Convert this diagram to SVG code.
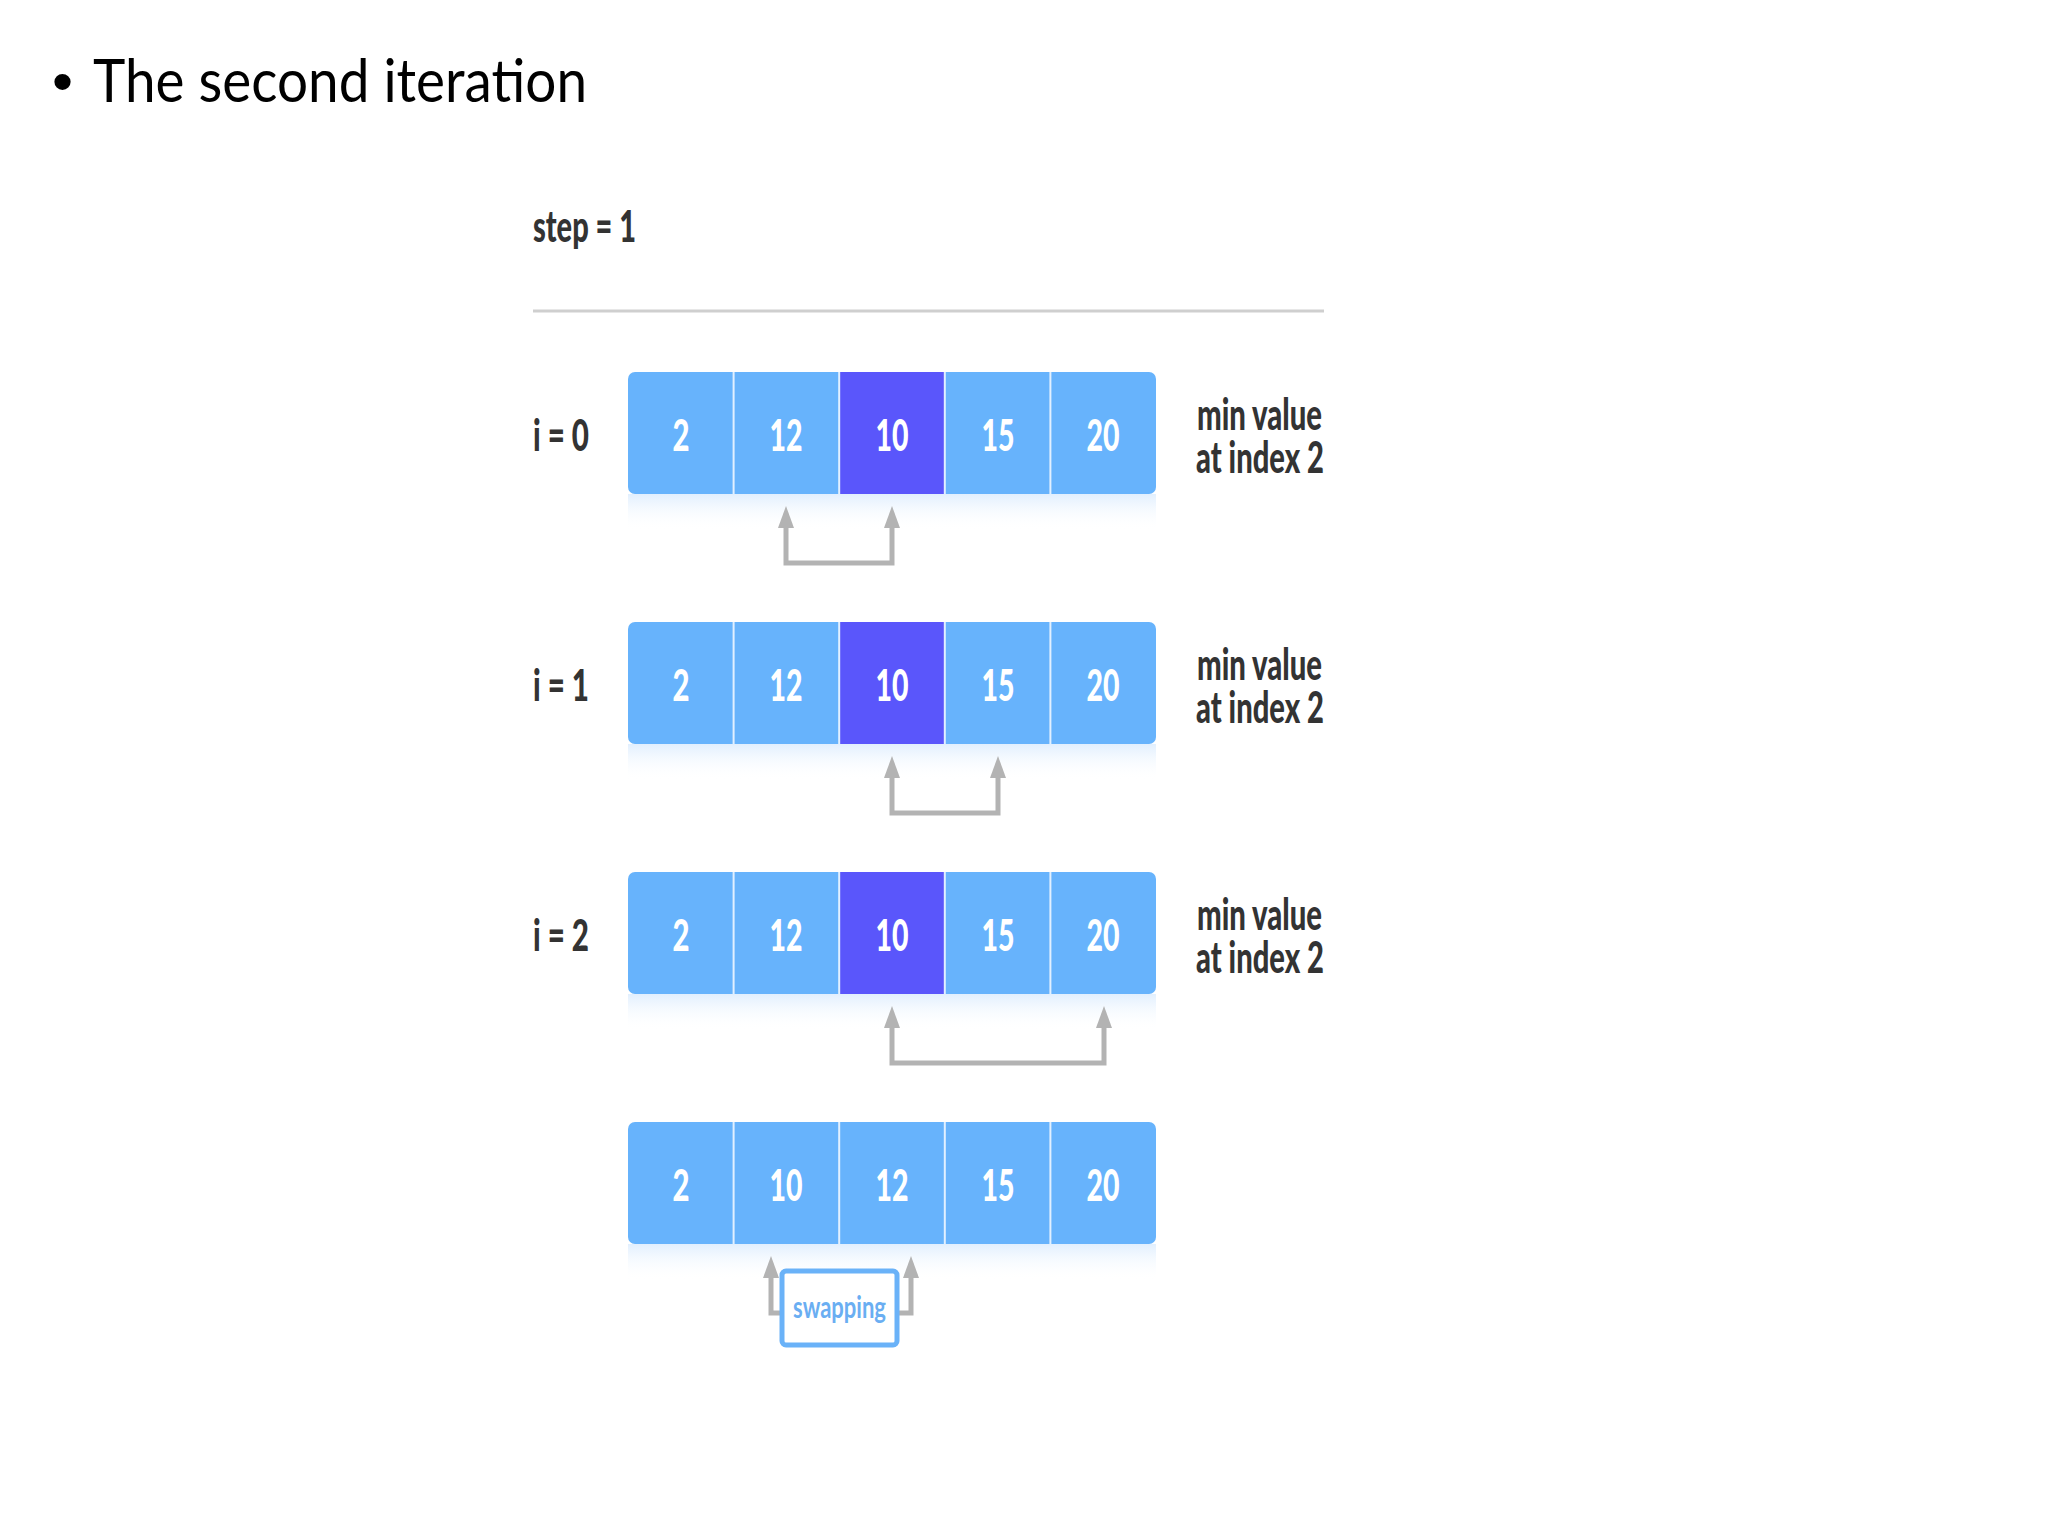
<svg xmlns="http://www.w3.org/2000/svg" width="2048" height="1536" viewBox="0 0 2048 1536">
<defs>
<style>
.lbl{font-family:Lato,"Liberation Sans",sans-serif;font-weight:900;fill:#333333;font-size:44px}
.num{font-family:Lato,"Liberation Sans",sans-serif;font-weight:900;fill:#ffffff;font-size:44px;text-anchor:middle}
.cell{fill:#67b3fc}
.cur{fill:#5a56fb}
.div{stroke:#e2f0ff;stroke-width:2}
.arr{fill:none;stroke:#b3b3b3;stroke-width:5;stroke-linejoin:miter}
</style>
<linearGradient id="shade" x1="0" y1="0" x2="0" y2="1">
<stop offset="0" stop-color="#c9e2fd" stop-opacity="0.55"/>
<stop offset="1" stop-color="#ffffff" stop-opacity="0"/>
</linearGradient>
<marker id="ah" markerUnits="userSpaceOnUse" markerWidth="24" markerHeight="18" viewBox="0 -9 24 18" refX="0" refY="0" orient="auto-start-reverse">
<path d="M0,-8 L22,0 L0,8 z" fill="#b3b3b3"/>
</marker>
</defs>
<rect width="2048" height="1536" fill="#ffffff"/>

<g id="title">
<text x="52" y="102" font-family="'Liberation Sans',sans-serif" font-size="60" fill="#000">•</text>
<text x="93" y="102" font-family="Lato,'Open Sans',sans-serif" font-size="60" fill="#000" textLength="494" lengthAdjust="spacingAndGlyphs">The second iteration</text>
</g>

<g id="step">
<text class="lbl" x="533" y="242" textLength="103" lengthAdjust="spacingAndGlyphs">step = 1</text>
<line x1="533" y1="311" x2="1324" y2="311" stroke="#cfcfcf" stroke-width="3"/>
</g>

<g id="row0">
<rect x="628" y="494" width="528" height="36" fill="url(#shade)"/>
<rect x="628" y="372" width="528" height="122" rx="7" class="cell"/>
<rect x="839" y="372" width="106" height="122" class="cur"/>
<line class="div" x1="733.6" y1="372" x2="733.6" y2="494"/>
<line class="div" x1="839.2" y1="372" x2="839.2" y2="494"/>
<line class="div" x1="944.8" y1="372" x2="944.8" y2="494"/>
<line class="div" x1="1050.4" y1="372" x2="1050.4" y2="494"/>
<text class="lbl" x="533" y="451" textLength="56" lengthAdjust="spacingAndGlyphs">i = 0</text>
<text class="num" x="681" y="451" textLength="17" lengthAdjust="spacingAndGlyphs">2</text>
<text class="num" x="786" y="451" textLength="33" lengthAdjust="spacingAndGlyphs">12</text>
<text class="num" x="892" y="451" textLength="33" lengthAdjust="spacingAndGlyphs">10</text>
<text class="num" x="998" y="451" textLength="33" lengthAdjust="spacingAndGlyphs">15</text>
<text class="num" x="1103" y="451" textLength="33" lengthAdjust="spacingAndGlyphs">20</text>
<text class="lbl" x="1197" y="430" textLength="125" lengthAdjust="spacingAndGlyphs">min value</text>
<text class="lbl" x="1196" y="473" textLength="128" lengthAdjust="spacingAndGlyphs">at index 2</text>
</g>

<g id="row1">
<rect x="628" y="744" width="528" height="36" fill="url(#shade)"/>
<rect x="628" y="622" width="528" height="122" rx="7" class="cell"/>
<rect x="839" y="622" width="106" height="122" class="cur"/>
<line class="div" x1="733.6" y1="622" x2="733.6" y2="744"/>
<line class="div" x1="839.2" y1="622" x2="839.2" y2="744"/>
<line class="div" x1="944.8" y1="622" x2="944.8" y2="744"/>
<line class="div" x1="1050.4" y1="622" x2="1050.4" y2="744"/>
<text class="lbl" x="533" y="701" textLength="56" lengthAdjust="spacingAndGlyphs">i = 1</text>
<text class="num" x="681" y="701" textLength="17" lengthAdjust="spacingAndGlyphs">2</text>
<text class="num" x="786" y="701" textLength="33" lengthAdjust="spacingAndGlyphs">12</text>
<text class="num" x="892" y="701" textLength="33" lengthAdjust="spacingAndGlyphs">10</text>
<text class="num" x="998" y="701" textLength="33" lengthAdjust="spacingAndGlyphs">15</text>
<text class="num" x="1103" y="701" textLength="33" lengthAdjust="spacingAndGlyphs">20</text>
<text class="lbl" x="1197" y="680" textLength="125" lengthAdjust="spacingAndGlyphs">min value</text>
<text class="lbl" x="1196" y="723" textLength="128" lengthAdjust="spacingAndGlyphs">at index 2</text>
</g>

<g id="row2">
<rect x="628" y="994" width="528" height="36" fill="url(#shade)"/>
<rect x="628" y="872" width="528" height="122" rx="7" class="cell"/>
<rect x="839" y="872" width="106" height="122" class="cur"/>
<line class="div" x1="733.6" y1="872" x2="733.6" y2="994"/>
<line class="div" x1="839.2" y1="872" x2="839.2" y2="994"/>
<line class="div" x1="944.8" y1="872" x2="944.8" y2="994"/>
<line class="div" x1="1050.4" y1="872" x2="1050.4" y2="994"/>
<text class="lbl" x="533" y="951" textLength="56" lengthAdjust="spacingAndGlyphs">i = 2</text>
<text class="num" x="681" y="951" textLength="17" lengthAdjust="spacingAndGlyphs">2</text>
<text class="num" x="786" y="951" textLength="33" lengthAdjust="spacingAndGlyphs">12</text>
<text class="num" x="892" y="951" textLength="33" lengthAdjust="spacingAndGlyphs">10</text>
<text class="num" x="998" y="951" textLength="33" lengthAdjust="spacingAndGlyphs">15</text>
<text class="num" x="1103" y="951" textLength="33" lengthAdjust="spacingAndGlyphs">20</text>
<text class="lbl" x="1197" y="930" textLength="125" lengthAdjust="spacingAndGlyphs">min value</text>
<text class="lbl" x="1196" y="973" textLength="128" lengthAdjust="spacingAndGlyphs">at index 2</text>
</g>

<g id="row3">
<rect x="628" y="1244" width="528" height="36" fill="url(#shade)"/>
<rect x="628" y="1122" width="528" height="122" rx="7" class="cell"/>
<line class="div" x1="733.6" y1="1122" x2="733.6" y2="1244"/>
<line class="div" x1="839.2" y1="1122" x2="839.2" y2="1244"/>
<line class="div" x1="944.8" y1="1122" x2="944.8" y2="1244"/>
<line class="div" x1="1050.4" y1="1122" x2="1050.4" y2="1244"/>
<text class="num" x="681" y="1201" textLength="17" lengthAdjust="spacingAndGlyphs">2</text>
<text class="num" x="786" y="1201" textLength="33" lengthAdjust="spacingAndGlyphs">10</text>
<text class="num" x="892" y="1201" textLength="33" lengthAdjust="spacingAndGlyphs">12</text>
<text class="num" x="998" y="1201" textLength="33" lengthAdjust="spacingAndGlyphs">15</text>
<text class="num" x="1103" y="1201" textLength="33" lengthAdjust="spacingAndGlyphs">20</text>
</g>

<g id="connectors">
<path class="arr" d="M786,528 V563 H892 V528" marker-start="url(#ah)" marker-end="url(#ah)"/>
<path class="arr" d="M892,778 V813 H998 V778" marker-start="url(#ah)" marker-end="url(#ah)"/>
<path class="arr" d="M892,1028 V1063 H1104 V1028" marker-start="url(#ah)" marker-end="url(#ah)"/>
<path class="arr" d="M771,1278 V1313 H911 V1278" marker-start="url(#ah)" marker-end="url(#ah)"/>
</g>

<g id="swapping">
<rect x="782" y="1271" width="115" height="74" rx="4" fill="#ffffff" stroke="#6ab2f8" stroke-width="5"/>
<text x="839.5" y="1318" font-family="Lato,'Liberation Sans',sans-serif" font-size="31" font-weight="700" fill="#6aaef2" text-anchor="middle" textLength="93" lengthAdjust="spacingAndGlyphs">swapping</text>
</g>
</svg>
